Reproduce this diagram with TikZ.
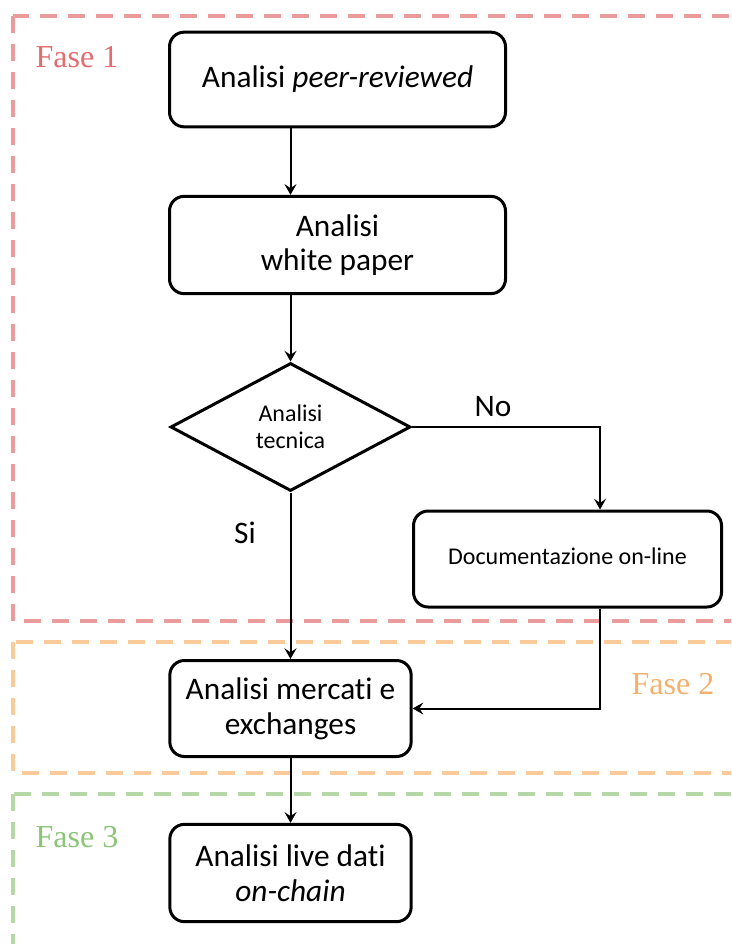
\documentclass[tikz,border=0pt]{standalone}
\usepackage{fontspec}
\setmainfont{Carlito}[Ligatures=NoCommon]
\newfontfamily\fasefont{Liberation Serif}
\usetikzlibrary{shapes.geometric,arrows.meta}

\definecolor{faseuno}{RGB}{234,155,155}
\definecolor{fasedue}{RGB}{250,202,154}
\definecolor{fasetre}{RGB}{182,216,166}
\definecolor{testouno}{RGB}{226,108,110}
\definecolor{testodue}{RGB}{244,176,108}
\definecolor{testotre}{RGB}{140,196,120}

\begin{document}
\begin{tikzpicture}[x=0.75pt,y=-0.75pt]
        \clip (0,0) rectangle (731,944);
        % fasi
        \begin{scope}[every path/.style={line width=3pt, dash pattern=on 12.5pt off 8.5pt}]
                \draw[faseuno] (13,16) rectangle (760,621);
                \draw[fasedue] (13,642) rectangle (760,773);
                \draw[fasetre] (13,794) rectangle (760,980);
        \end{scope}
        \begin{scope}[every node/.style={font=\fasefont\fontsize{24}{28}\selectfont}]
                \node[text=testouno] (F1) at (77,57) {Fase 1};
                \node[text=testodue] (F2) at (673,684) {Fase 2};
                \node[text=testotre] (F3) at (77,837) {Fase 3};
        \end{scope}
        % blocchi
        \begin{scope}[every node/.style={draw, line width=2.25pt, rounded corners=11pt, align=center, inner sep=2pt, font=\fontsize{23.5}{26}\selectfont}]
                \node[minimum width=252pt, minimum height=71pt] (P) at (337.5,79.5) {Analisi \textit{peer-reviewed}};
                \node[minimum width=252pt, minimum height=73pt] (W) at (337.5,245) {Analisi\\white paper};
                \node[diamond, sharp corners, aspect=1.85, minimum width=180pt, minimum height=96pt, inner sep=0pt, font=\fontsize{18}{20}\selectfont] (T) at (290.5,427) {Analisi\\tecnica};
                \node[minimum width=231pt, minimum height=72pt, font=\fontsize{18}{20}\selectfont] (D) at (567.5,559) {\raisebox{4pt}{Documentazione on-line}};
                \node[minimum width=181pt, minimum height=72pt] (M) at (290.5,708.5) {Analisi mercati e\\exchanges};
                \node[minimum width=181pt, minimum height=73pt] (L) at (290.5,873) {Analisi live dati\\\textit{on-chain}};
        \end{scope}
        \begin{scope}[every node/.style={font=\fontsize{23.5}{26}\selectfont}]
                \node (no) at (493,407) {No};
                \node (si) at (245,533) {Si};
        \end{scope}
        % frecce
        \begin{scope}[every path/.style={line width=1.5pt, ->, >={Stealth[length=8pt,width=9pt,inset=3pt]}}]
                \draw (P.south -| T.north) -- (W.north -| T.north);
                \draw (W.south -| T.north) -- (T.north);
                \path (T) edge (M);
                \draw (T.east) -| ([xshift=24.4pt]D.north);
                \draw ([xshift=24.4pt]D.south) |- (M.east);
                \path (M) edge (L);
        \end{scope}
\end{tikzpicture}
\end{document}
